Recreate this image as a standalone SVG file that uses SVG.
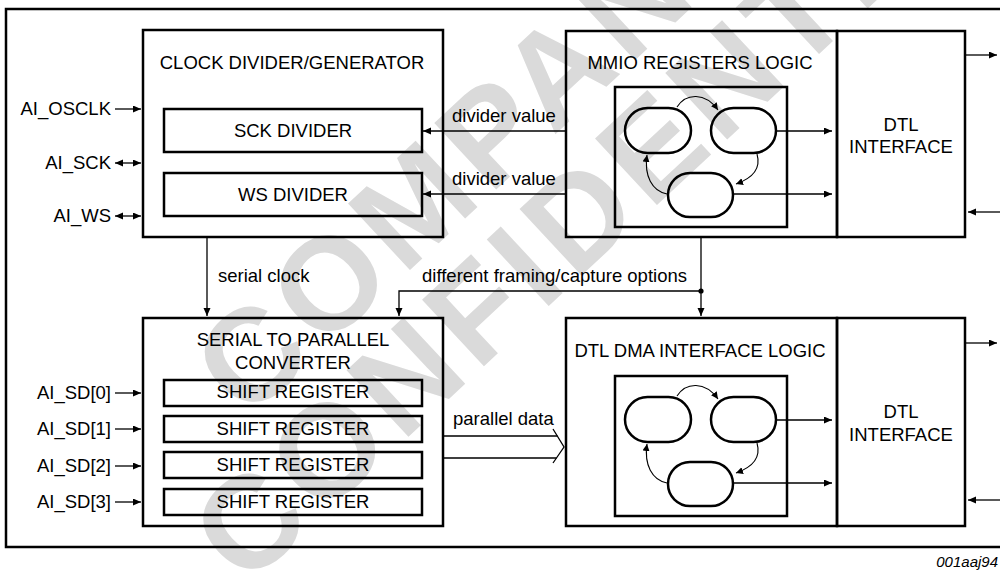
<svg xmlns="http://www.w3.org/2000/svg" width="1000" height="572" viewBox="0 0 1000 572">
<defs>
<style>
.t{font-family:"Liberation Sans",Arial,sans-serif;font-size:18.5px;fill:#000}
.m{text-anchor:middle}
.e{text-anchor:end}
.box{fill:none;stroke:#000;stroke-width:2.5}
.ln{fill:none;stroke:#000;stroke-width:1.3}
.cv{fill:none;stroke:#000;stroke-width:1.1}
.ov{fill:none;stroke:#000;stroke-width:2.5}
.wm{font-family:"Liberation Sans",Arial,sans-serif;font-size:132px;font-weight:bold;fill:#dadada;letter-spacing:8px}
</style>
<marker id="ah" markerUnits="userSpaceOnUse" markerWidth="9" markerHeight="8" refX="8" refY="3.5" orient="auto-start-reverse"><path d="M0,0 L8,3.5 L0,7 z" fill="#000"/></marker>
<marker id="sh" markerUnits="userSpaceOnUse" markerWidth="8" markerHeight="8" refX="7" refY="3.5" orient="auto"><path d="M0,0 L7,3.5 L0,7 z" fill="#000"/></marker>
<g id="fsm">
<rect x="615" y="87" width="172" height="140" class="box"/>
<rect x="625" y="108" width="66" height="45" rx="22.5" class="ov"/>
<rect x="711" y="108" width="65" height="45" rx="22.5" class="ov"/>
<rect x="668" y="173" width="65" height="44" rx="22" class="ov"/>
<path d="M677,107 C686,93 705,92 718,110" class="cv" marker-end="url(#sh)"/>
<path d="M757,154 C761,168 753,178 736,184" class="cv" marker-end="url(#sh)"/>
<path d="M667,194 C652,191 644,176 647,155" class="cv" marker-end="url(#sh)"/>
<path d="M776,131 H832" class="ln" marker-end="url(#ah)"/>
<path d="M733,194 H832" class="ln" marker-end="url(#ah)"/>
</g>
</defs>
<rect width="1000" height="572" fill="#fff"/>
<g id="watermark" transform="rotate(-43)">
<text class="wm" x="-107" y="477">COMPANY</text>
<text class="wm" x="-222" y="598">CONFIDENTIAL</text>
</g>
<g id="frame">
<path d="M1000,9 H6 V547 H1000" class="box"/>
</g>
<g id="clock-divider">
<rect x="143" y="30" width="300" height="207" class="box"/>
<text class="t m" x="292" y="69">CLOCK DIVIDER/GENERATOR</text>
</g>
<g id="sck-divider">
<rect x="164" y="109" width="258" height="43" class="box"/>
<text class="t m" x="293" y="137">SCK DIVIDER</text>
</g>
<g id="ws-divider">
<rect x="164" y="173" width="258" height="43" class="box"/>
<text class="t m" x="293" y="201">WS DIVIDER</text>
</g>
<g id="mmio">
<rect x="566" y="31" width="271" height="206" class="box"/>
<text class="t m" x="700" y="69">MMIO REGISTERS LOGIC</text>
<use href="#fsm"/>
</g>
<g id="dtl-interface-1">
<rect x="837" y="31" width="128" height="206" class="box"/>
<text class="t m" x="901" y="131">DTL</text>
<text class="t m" x="901" y="153">INTERFACE</text>
</g>
<g id="serial-parallel">
<rect x="143" y="318" width="300" height="208" class="box"/>
<text class="t m" x="293" y="346">SERIAL TO PARALLEL</text>
<text class="t m" x="293" y="369">CONVERTER</text>
</g>
<g id="shift-0"><rect x="164" y="380" width="258" height="26" class="box"/><text class="t m" x="293" y="398">SHIFT REGISTER</text></g>
<g id="shift-1"><rect x="164" y="416" width="258" height="26" class="box"/><text class="t m" x="293" y="435">SHIFT REGISTER</text></g>
<g id="shift-2"><rect x="164" y="452" width="258" height="26" class="box"/><text class="t m" x="293" y="471">SHIFT REGISTER</text></g>
<g id="shift-3"><rect x="164" y="489" width="258" height="26" class="box"/><text class="t m" x="293" y="508">SHIFT REGISTER</text></g>
<g id="dtl-dma">
<rect x="566" y="318" width="271" height="208" class="box"/>
<text class="t m" x="700" y="357">DTL DMA INTERFACE LOGIC</text>
<use href="#fsm" transform="translate(0,289)"/>
</g>
<g id="dtl-interface-2">
<rect x="837" y="318" width="128" height="208" class="box"/>
<text class="t m" x="901" y="418">DTL</text>
<text class="t m" x="901" y="441">INTERFACE</text>
</g>
<g id="labels">
<text class="t e" x="111" y="115">AI_OSCLK</text>
<text class="t e" x="111" y="169">AI_SCK</text>
<text class="t e" x="111" y="222">AI_WS</text>
<text class="t e" x="111" y="399">AI_SD[0]</text>
<text class="t e" x="111" y="435">AI_SD[1]</text>
<text class="t e" x="111" y="472">AI_SD[2]</text>
<text class="t e" x="111" y="508">AI_SD[3]</text>
<text class="t" x="452" y="122">divider value</text>
<text class="t" x="452" y="185">divider value</text>
<text class="t" x="218" y="282">serial clock</text>
<text class="t" x="422" y="282">different framing/capture options</text>
<text class="t" x="453" y="425">parallel data</text>
<text x="998" y="567" text-anchor="end" style="font-family:'Liberation Sans',Arial,sans-serif;font-size:15px;font-style:italic">001aaj94</text>
</g>
<g id="connectors">
<path d="M115,109 H141" class="ln" marker-end="url(#ah)"/>
<path d="M115,163 H141" class="ln" marker-start="url(#ah)" marker-end="url(#ah)"/>
<path d="M115,216 H141" class="ln" marker-start="url(#ah)" marker-end="url(#ah)"/>
<path d="M115,393 H141" class="ln" marker-end="url(#ah)"/>
<path d="M115,429 H141" class="ln" marker-end="url(#ah)"/>
<path d="M115,466 H141" class="ln" marker-end="url(#ah)"/>
<path d="M115,502 H141" class="ln" marker-end="url(#ah)"/>
<path d="M566,131 H423" class="ln" marker-end="url(#ah)"/>
<path d="M566,194 H423" class="ln" marker-end="url(#ah)"/>
<path d="M207,237 V316" class="ln" marker-end="url(#ah)"/>
<path d="M701,237 V316" class="ln" marker-end="url(#ah)"/>
<path d="M701,291 H399 V316" class="ln" marker-end="url(#ah)"/>
<circle cx="701" cy="291" r="2.6" fill="#000"/>
<path d="M443,436 H557.5 M443,458 H556.5" class="ln"/>
<path d="M553,429 L564,447 L553,463" class="ln"/>
<path d="M965,55 H997" class="ln" marker-end="url(#ah)"/>
<path d="M1000,212 H968" class="ln" marker-end="url(#ah)"/>
<path d="M965,343 H997" class="ln" marker-end="url(#ah)"/>
<path d="M1000,500 H968" class="ln" marker-end="url(#ah)"/>
</g>
</svg>
